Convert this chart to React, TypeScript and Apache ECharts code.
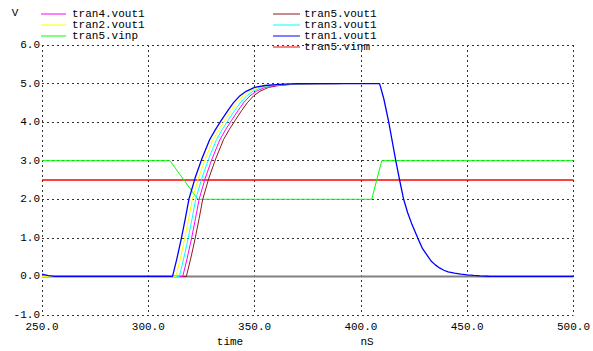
import React, { useEffect, useRef } from "react";
import * as echarts from "echarts";

const xTicks = [250, 300, 350, 400, 450, 500];
const yTicks = [-1, 0, 1, 2, 3, 4, 5, 6];

const tran1Vout1: [number, number][] = [
  [250, 0.06], [253, 0.02], [256, 0], [311.4, 0], [313.4, 0.45], [315.6, 1.0], [317.4, 1.5], [319.1, 2.0],
  [322, 2.55], [325.2, 3.05], [328.9, 3.55], [331.5, 3.8], [334.4, 4.05], [337.4, 4.3], [340, 4.5],
  [343, 4.68], [346, 4.8], [350, 4.9], [355, 4.95], [362, 4.98], [370, 4.995], [380, 5.0], [408.8, 5.0],
  [410.8, 4.6], [413.1, 4.0], [416.4, 3.0], [418.2, 2.5], [420.1, 2.0], [422, 1.65], [424, 1.35],
  [426.7, 1.0], [429, 0.72], [431.5, 0.52], [433, 0.4], [435, 0.3], [437, 0.22], [439, 0.16], [441, 0.12],
  [444, 0.085], [447, 0.06], [450, 0.04], [453, 0.025], [456, 0.012], [460, 0.004], [463, 0], [500, 0],
];
const tran2Vout1: [number, number][] = [
  [250, 0], [313, 0], [315, 0.45], [317.2, 1.0], [319, 1.5], [320.7, 2.0], [323.6, 2.55], [326.8, 3.05],
  [330.5, 3.55], [333.1, 3.8], [336, 4.05], [339, 4.3], [341.6, 4.5], [344.6, 4.68], [347.6, 4.8],
  [351.6, 4.9], [356.6, 4.95], [363.5, 4.98], [371, 4.99], [390.8, 5.0],
];
const tran3Vout1: [number, number][] = [
  [250, 0], [314.6, 0], [316.6, 0.45], [318.8, 1.0], [320.6, 1.5], [322.3, 2.0], [325.2, 2.55], [328.4, 3.05],
  [332.1, 3.55], [334.7, 3.8], [337.6, 4.05], [340.6, 4.3], [343.2, 4.5], [346.2, 4.68], [349.2, 4.8],
  [353.2, 4.9], [358.2, 4.95], [365, 4.98], [372, 4.99], [390.8, 5.0],
];
const tran4Vout1: [number, number][] = [
  [250, 0], [316.2, 0], [318.2, 0.45], [320.4, 1.0], [322.2, 1.5], [323.9, 2.0], [326.8, 2.55], [330, 3.05],
  [333.7, 3.55], [336.3, 3.8], [339.2, 4.05], [342.2, 4.3], [344.8, 4.5], [347.8, 4.68], [350.8, 4.8],
  [354.8, 4.9], [359.8, 4.95], [366.5, 4.98], [373, 4.99], [390.8, 5.0],
];
const tran5Vout1: [number, number][] = [
  [250, 0], [317.9, 0], [319.9, 0.45], [322.1, 1.0], [323.9, 1.5], [325.6, 2.0], [328.5, 2.55], [331.7, 3.05],
  [335.4, 3.55], [338, 3.8], [340.9, 4.05], [343.9, 4.3], [346.5, 4.5], [349.5, 4.68], [352.5, 4.8],
  [356.5, 4.9], [361.5, 4.95], [368, 4.98], [375, 4.99], [390.8, 5.0],
];
const tran5Vinp: [number, number][] = [
  [250, 3], [310.2, 3], [323.3, 2], [405.1, 2], [409.8, 3], [500, 3],
];
const tran5Vinm: [number, number][] = [
  [250, 2.5], [500, 2.5],
];

const seriesNames = ["tran4.vout1", "tran2.vout1", "tran5.vinp", "tran5.vout1", "tran3.vout1", "tran1.vout1", "tran5.vinm"];
const seriesColors = ["#ff00ff", "#ffff00", "#00ff00", "#8b1a1a", "#00ffff", "#0000ff", "#ff0000"];
const seriesWidths = [1, 1, 1, 1, 1, 1.3, 1.3];

const FONT = "'Liberation Mono', 'DejaVu Sans Mono', monospace";

export default function App() {
  const ref = useRef<HTMLDivElement>(null);
  useEffect(() => {
    if (!ref.current) return;
    const chart = echarts.init(ref.current, undefined, { renderer: "svg" });
    const mk = (idx: number, data: [number, number][], z: number) => ({
      type: "line",
      name: seriesNames[idx],
      data,
      symbol: "none",
      color: seriesColors[idx],
      lineStyle: { color: seriesColors[idx], width: seriesWidths[idx], opacity: 1 },
      itemStyle: { color: seriesColors[idx] },
      silent: true,
      z,
    });
    const legendLeft = [0, 1, 2];
    const legendRight = [3, 4, 5, 6];
    const graphics: any[] = [
      { type: "text", x: 15, y: 13, style: { text: "V", font: `11px ${FONT}`, fill: "#000", align: "center", verticalAlign: "middle" } },
      { type: "text", x: 230, y: 342, style: { text: "time", font: `11px ${FONT}`, fill: "#000", align: "center", verticalAlign: "middle" } },
      { type: "text", x: 367, y: 342, style: { text: "nS", font: `11px ${FONT}`, fill: "#000", align: "center", verticalAlign: "middle" } },
    ];
    legendLeft.forEach((idx, i) => {
      const y = 14 + i * 11;
      graphics.push({ type: "line", shape: { x1: 41, y1: y, x2: 66, y2: y }, style: { stroke: seriesColors[idx], lineWidth: 1 } });
      graphics.push({ type: "text", x: 72, y: y, style: { text: seriesNames[idx], font: `11px ${FONT}`, fill: "#000", verticalAlign: "middle" } });
    });
    legendRight.forEach((idx, i) => {
      const y = 14 + i * 11;
      graphics.push({ type: "line", shape: { x1: 273, y1: y, x2: 300, y2: y }, style: { stroke: seriesColors[idx], lineWidth: 1 } });
      graphics.push({ type: "text", x: 304, y: y, style: { text: seriesNames[idx], font: `11px ${FONT}`, fill: "#000", verticalAlign: "middle" } });
    });
    chart.setOption({
      animation: false,
      backgroundColor: "#ffffff",
      grid: { left: 42, right: 19, top: 45, bottom: 36, containLabel: false },
      xAxis: {
        type: "value",
        min: xTicks[0],
        max: xTicks[xTicks.length - 1],
        interval: 50,
        axisLine: { show: false },
        axisTick: { show: false },
        axisLabel: { formatter: (v: number) => v.toFixed(1), color: "#000", fontFamily: FONT, fontSize: 11, margin: 6 },
        splitLine: { show: true, lineStyle: { color: "#333", type: [2, 3], width: 1 } },
      },
      yAxis: {
        type: "value",
        min: yTicks[0],
        max: yTicks[yTicks.length - 1],
        interval: 1,
        axisLine: { show: false },
        axisTick: { show: false },
        axisLabel: { formatter: (v: number) => v.toFixed(1), color: "#000", fontFamily: FONT, fontSize: 11, margin: 2 },
        splitLine: { show: true, lineStyle: { color: "#333", type: [2, 3], width: 1 } },
      },
      graphic: graphics,
      series: [
        {
          type: "line",
          name: "zero",
          data: [[250, 0], [500, 0]],
          symbol: "none",
          color: "#808080",
          lineStyle: { color: "#808080", width: 2 },
          silent: true,
          z: 1,
        },
        mk(6, tran5Vinm, 2),
        mk(2, tran5Vinp, 3),
        mk(3, tran5Vout1, 4),
        mk(0, tran4Vout1, 5),
        mk(4, tran3Vout1, 6),
        mk(1, tran2Vout1, 7),
        mk(5, tran1Vout1, 8),
      ],
    });
    return () => chart.dispose();
  }, []);
  return <div ref={ref} style={{ position: "absolute", left: 0, top: 0, width: 593, height: 351 }} />;
}
